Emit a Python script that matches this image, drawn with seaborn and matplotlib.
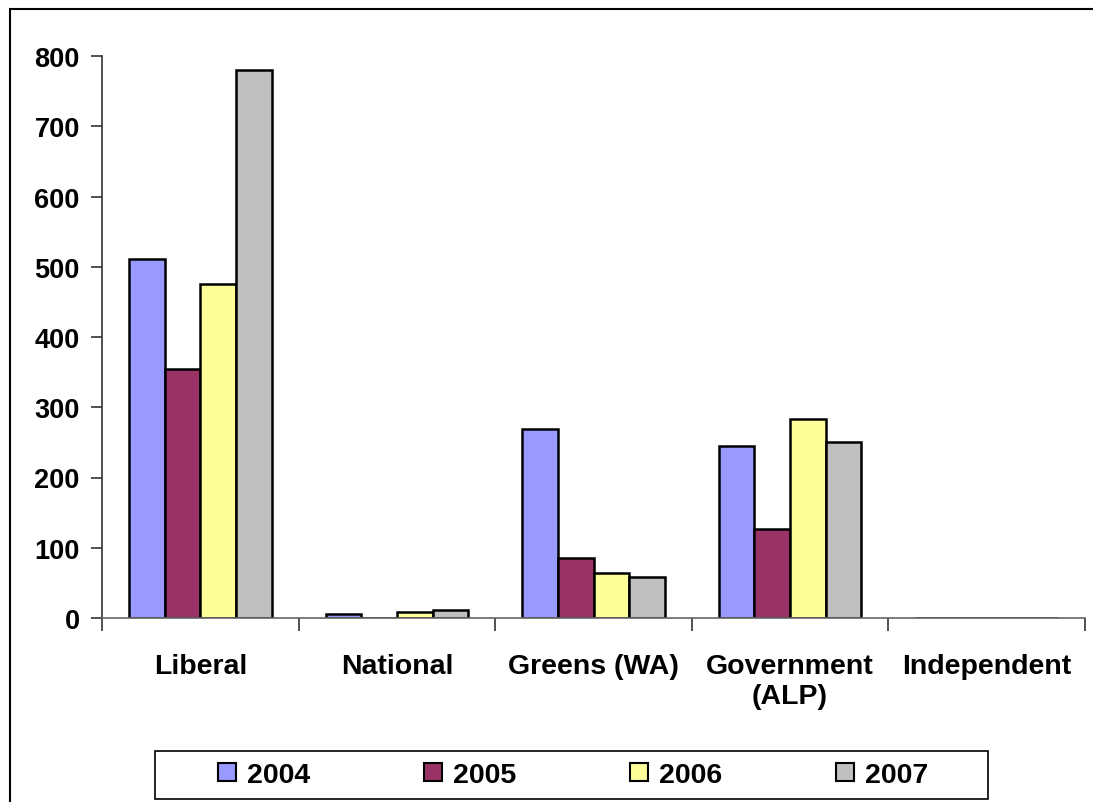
import numpy as np
import pandas as pd
import seaborn as sns
import matplotlib.pyplot as plt
from matplotlib.patches import Rectangle

parties = ["Liberal", "National", "Greens (WA)", "Government\n(ALP)", "Independent"]
years = ["2004", "2005", "2006", "2007"]
v2004 = [511, 6, 269, 245, 0]
v2005 = [354, 0, 85, 127, 0]
v2006 = [475, 9, 64, 283, 0]
v2007 = [780, 11, 58, 250, 0]
colors = ["#9999FF", "#993366", "#FFFF99", "#C0C0C0"]

rows = []
for yr, vals in zip(years, [v2004, v2005, v2006, v2007]):
    for p, v in zip(parties, vals):
        rows.append({"Party": p, "Year": yr, "Count": v})
df = pd.DataFrame(rows)

sns.set_style("white")
plt.rcParams['font.family'] = ['Liberation Sans', 'DejaVu Sans']
plt.rcParams['text.color'] = "black"
plt.rcParams['xtick.color'] = "black"
plt.rcParams['ytick.color'] = "black"

fig = plt.figure(figsize=(10.93, 8.03), dpi=100)
ax = fig.add_axes([102/1093, (803-619)/803, (1085-102)/1093, (619-57)/803])
sns.barplot(data=df, x="Party", y="Count", hue="Year", order=parties,
            hue_order=years, palette=colors, width=0.726, edgecolor="black",
            linewidth=1.8, saturation=1, ax=ax, legend=False)

ax.set_ylim(0, 800)
ax.set_xlim(-0.5, 4.5)
ax.set_yticks(range(0, 801, 100))
ax.set_xlabel("")
ax.set_ylabel("")
for s in ["top", "right"]:
    ax.spines[s].set_visible(False)
ax.spines["left"].set_color("#333333")
ax.spines["bottom"].set_color("#666666")
ax.spines["left"].set_linewidth(1.2)
ax.spines["bottom"].set_linewidth(1.2)

ax.tick_params(axis="y", which="major", left=True, length=8, width=1.2,
               color="#333333", labelcolor="black", labelsize=19.5, pad=8)
ax.set_xticks(np.arange(-0.5, 5, 1), minor=True)
ax.tick_params(axis="x", which="minor", bottom=True, length=9, width=1.2, color="#333333")
ax.tick_params(axis="x", which="major", length=0, labelcolor="black", labelsize=20.5, pad=25)
for lbl in ax.get_xticklabels() + ax.get_yticklabels():
    lbl.set_fontweight("bold")

# legend box drawn separately, items centred inside
fig.patches.append(Rectangle((155/1093, (803-800)/803), (988-155)/1093, 48/803,
                             transform=fig.transFigure, fill=False,
                             edgecolor="black", linewidth=1.2))
handles = [Rectangle((0, 0), 1, 1, facecolor=c, edgecolor="black", linewidth=1.5) for c in colors]
leg = fig.legend(handles, years, loc="center", ncol=4,
                 bbox_to_anchor=(573/1093, (803-776)/803),
                 prop={"weight": "bold", "size": 20.5}, frameon=False,
                 handlelength=0.63, handleheight=0.63, handletextpad=0.39,
                 columnspacing=4.0, borderaxespad=0, borderpad=0)

border = Rectangle((10/1093, -0.1), 1.2, (803-10)/803 + 0.1, transform=fig.transFigure,
                   fill=False, edgecolor="black", linewidth=1.5)
fig.patches.append(border)

fig.savefig("out.png", dpi=100)
